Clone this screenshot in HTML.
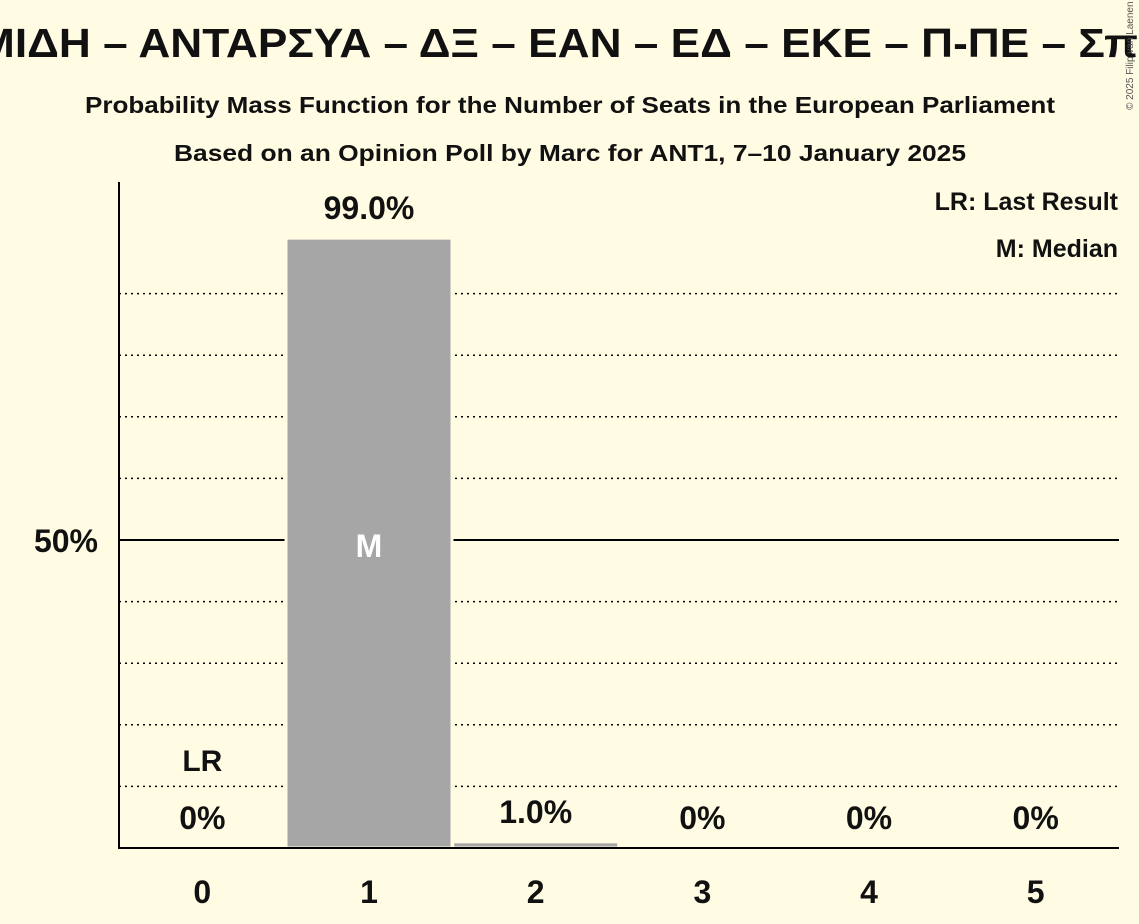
<!DOCTYPE html>
<html><head><meta charset="utf-8"><style>
body{margin:0;background:#fffce3;}
svg{display:block;font-family:"Liberation Sans","DejaVu Sans",sans-serif;}
</style></head><body>
<svg width="1139" height="924" viewBox="0 0 1139 924">
<rect width="1139" height="924" fill="#fffce3"/>
<text x="-22" y="57" font-size="41" font-weight="bold" fill="#111" textLength="1160" lengthAdjust="spacingAndGlyphs">ΜΙΔΗ – ΑΝΤΑΡΣΥΑ – ΔΞ – ΕΑΝ – ΕΔ – ΕΚΕ – Π-ΠΕ – Σπ</text>
<text x="85" y="113" font-size="23" font-weight="bold" fill="#111" textLength="970" lengthAdjust="spacingAndGlyphs">Probability Mass Function for the Number of Seats in the European Parliament</text>
<text x="174" y="161" font-size="23" font-weight="bold" fill="#111" textLength="792" lengthAdjust="spacingAndGlyphs">Based on an Opinion Poll by Marc for ANT1, 7–10 January 2025</text>
<text x="1133" y="110" font-size="10" fill="#555" transform="rotate(-90 1133 110)">© 2025 Filip van Laenen</text>
<g id="grid"></g>
<g id="bars"></g>
<line x1="119" y1="182" x2="119" y2="849" stroke="#000" stroke-width="2"/>
<line x1="118" y1="848" x2="1119" y2="848" stroke="#000" stroke-width="2"/>
<text x="98" y="552" font-size="32" font-weight="bold" text-anchor="end" fill="#111">50%</text>
<text x="1118" y="210" font-size="25" font-weight="bold" text-anchor="end" fill="#111">LR: Last Result</text>
<text x="1118" y="257" font-size="25" font-weight="bold" text-anchor="end" fill="#111">M: Median</text>
<g id="labels"></g>
</svg>
<script>
const seats=[0,1,2,3,4,5];
const probs=[0,99.0,1.0,0,0,0];
const valueLabels=["0%","99.0%","1.0%","0%","0%","0%"];
const lastResult=0;
const median=1;
const NS="http://www.w3.org/2000/svg";
const x0=119,step=166.67,base=848,pxPer=6.16;
const xc=i=>x0+step*(i+0.5);
const y=v=>base-v*pxPer;
function mk(t,a,p){const e=document.createElementNS(NS,t);for(const k in a)e.setAttribute(k,a[k]);p.appendChild(e);return e;}
const grid=document.getElementById('grid'),bars=document.getElementById('bars'),labels=document.getElementById('labels');
for(let v=10;v<=90;v+=10){
 const l=mk('line',{x1:119,x2:1119,y1:y(v),y2:y(v),stroke:'#000','stroke-width':v==50?2:1.5,'stroke-dasharray':v==50?'none':'2,4'},grid);
 
 
}
seats.forEach((s,i)=>{
 const p=probs[i];
 if(p>0){
  const r=mk('rect',{x:xc(i)-83,y:y(p),width:166,height:base-y(p),fill:'#a6a6a6',stroke:'#fffce3','stroke-width':3},bars);
  
  
 }
 const t=mk('text',{x:xc(i),y:p>5?y(p)-19:Math.min(y(p),base)-19,'font-size':32,'font-weight':'bold','text-anchor':'middle',fill:'#111'},labels);
 t.textContent=valueLabels[i];
 
 
 const xt=mk('text',{x:xc(i),y:903,'font-size':32,'font-weight':'bold','text-anchor':'middle',fill:'#111'},labels);
 xt.textContent=String(s);
 
 
 if(s===lastResult){
  const lr=mk('text',{x:xc(i),y:771,'font-size':30,'font-weight':'bold','text-anchor':'middle',fill:'#111'},labels);
  lr.textContent='LR';
  
  
 }
 if(s===median){
  const m=mk('text',{x:xc(i),y:557,'font-size':32,'font-weight':'bold','text-anchor':'middle',fill:'#fff'},labels);
  m.textContent='M';
  
  
 }
});
</script>
</body></html>
